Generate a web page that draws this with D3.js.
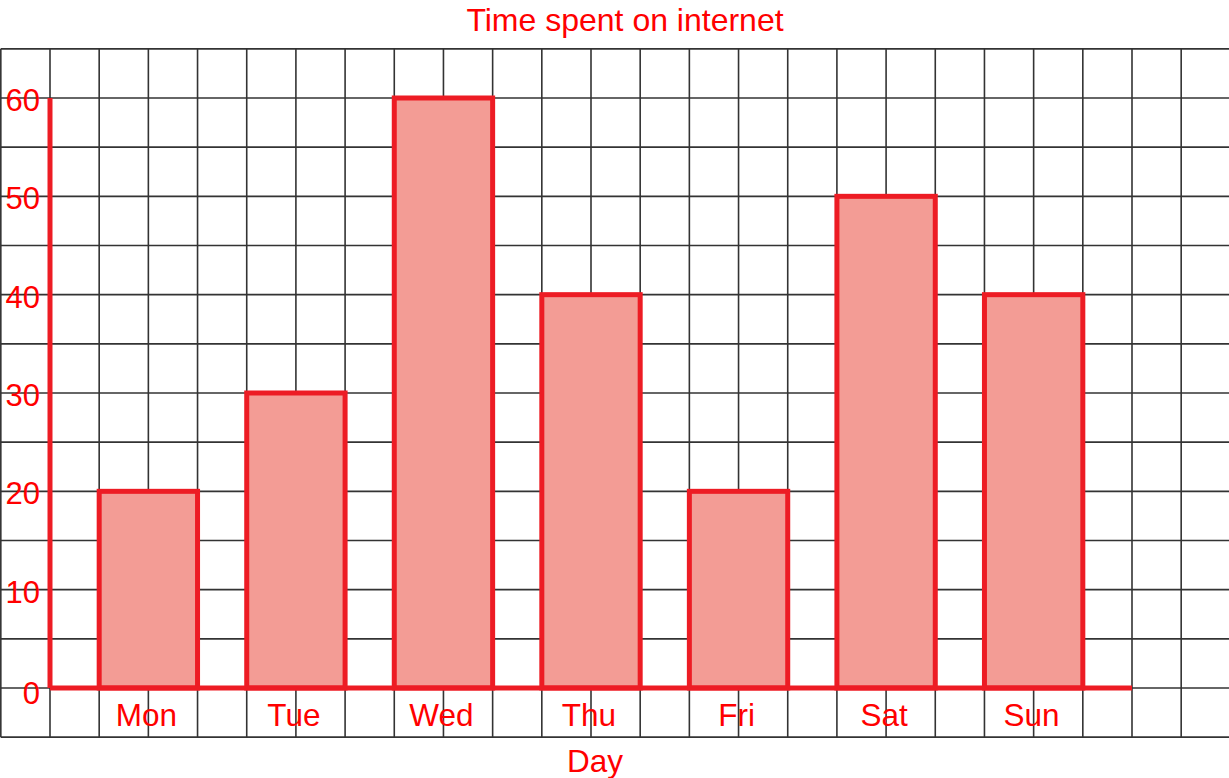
<!DOCTYPE html>
<html>
<head>
<meta charset="utf-8">
<script src="https://cdn.jsdelivr.net/npm/d3@7"></script>
<style>
  html, body { margin: 0; padding: 0; background: #fff; }
  svg { display: block; }
  text { font-family: "Liberation Sans", Arial, sans-serif; fill: #ff0000; }
</style>
</head>
<body>
<svg id="chart" width="1229" height="778"></svg>
<script>
// Minutes spent online per day of the week
const days = ["Mon", "Tue", "Wed", "Thu", "Fri", "Sat", "Sun"];
const minutes = [20, 30, 60, 40, 20, 50, 40];
const yTicks = [0, 10, 20, 30, 40, 50, 60];
const chartTitle = "Time spent on internet";
const xTitle = "Day";

const W = 1229, H = 778;
const plotLeft = 50, plotRight = 1132, plotTop = 98, plotBottom = 688;

const svg = d3.select("#chart");

const x = d3.scaleBand()
  .domain(days)
  .range([plotLeft, plotRight])
  .paddingInner(1 / 3)
  .paddingOuter(1 / 3);

const y = d3.scaleLinear().domain([0, 60]).range([plotBottom, plotTop]);

// Square grid: one cell = 5 units vertically, one third of a band step horizontally
const cell = x.step() / 3;
const gridX = d3.range(-1, Math.ceil((W - plotLeft) / cell) + 1).map(k => plotLeft + k * cell)
  .filter(v => v >= 0 && v <= W + 1);
const gridY = d3.range(-5, 70, 5).map(v => y(v));

const grid = svg.append("g").attr("stroke", "#333").attr("stroke-width", 1.6);
const gTop = y(65), gBot = y(-5);
grid.selectAll("line.v").data(gridX).join("line")
  .attr("class", "v")
  .attr("x1", d => d).attr("x2", d => d)
  .attr("y1", gTop).attr("y2", gBot);
grid.selectAll("line.h").data(gridY).join("line")
  .attr("class", "h")
  .attr("x1", gridX[0]).attr("x2", W)
  .attr("y1", d => d).attr("y2", d => d);

// Bars
svg.append("g").selectAll("rect").data(days).join("rect")
  .attr("x", d => x(d))
  .attr("y", (d, i) => y(minutes[i]))
  .attr("width", x.bandwidth())
  .attr("height", (d, i) => y(0) - y(minutes[i]))
  .attr("fill", "#f39c95")
  .attr("stroke", "#ed1c24")
  .attr("stroke-width", 5);

// Axis lines
svg.append("line")
  .attr("x1", plotLeft).attr("x2", plotLeft)
  .attr("y1", y(60)).attr("y2", y(0))
  .attr("stroke", "#ed1c24").attr("stroke-width", 5);
svg.append("line")
  .attr("x1", plotLeft).attr("x2", plotRight)
  .attr("y1", y(0)).attr("y2", y(0))
  .attr("stroke", "#ed1c24").attr("stroke-width", 5);

// Y tick labels
svg.append("g").selectAll("text").data(yTicks).join("text")
  .attr("x", 40)
  .attr("y", d => y(d) + (d === 0 ? 16 : 13))
  .attr("text-anchor", "end")
  .attr("font-size", 31)
  .text(d => d);

// Day labels
svg.append("g").selectAll("text").data(days).join("text")
  .attr("x", d => x(d) + x.bandwidth() / 2 - 2)
  .attr("y", y(0) + 38)
  .attr("text-anchor", "middle")
  .attr("font-size", 31.5)
  .text(d => d);

// Titles
svg.append("text")
  .attr("x", 625).attr("y", 31)
  .attr("text-anchor", "middle")
  .attr("font-size", 32)
  .text(chartTitle);
svg.append("text")
  .attr("x", 595).attr("y", 772)
  .attr("text-anchor", "middle")
  .attr("font-size", 31.5)
  .text(xTitle);
</script>
</body>
</html>
